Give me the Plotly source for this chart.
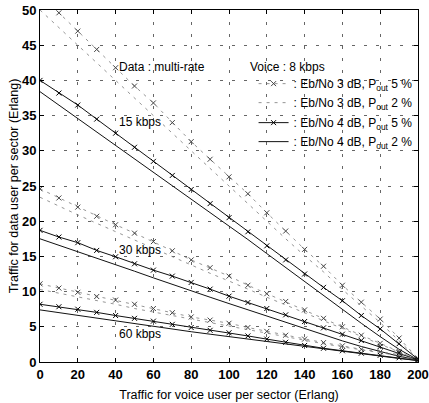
import plotly.graph_objects as go

x_voice = [0, 10, 20, 30, 40, 50, 60, 70, 80, 90, 100, 110, 120, 130, 140, 150, 160, 170, 180, 190, 200]

# 15 kbps
d15_3dB_5 = [52.2, 49.6, 47.0, 44.4, 41.8, 39.2, 36.8, 34.0, 31.3, 28.8, 26.3, 23.9, 21.2, 18.6, 16.0, 13.6, 10.9, 8.5, 6.1, 3.4, 0.5]
d15_3dB_2 = [50.0, 47.5, 45.0, 42.4, 39.9, 37.4, 34.9, 32.5, 30.0, 27.5, 25.0, 22.5, 20.0, 17.5, 15.1, 12.8, 10.3, 7.9, 5.6, 3.0, 0.4]
d15_4dB_5 = [40.0, 38.2, 36.5, 34.5, 32.5, 30.5, 28.5, 26.5, 24.5, 22.5, 20.5, 18.5, 16.5, 14.5, 12.5, 10.6, 8.7, 6.6, 4.7, 2.6, 0.4]
d15_4dB_2 = [38.4, 36.5, 34.6, 32.7, 30.8, 28.9, 27.0, 25.1, 23.2, 21.2, 19.3, 17.4, 15.4, 13.4, 11.4, 9.4, 7.5, 5.5, 3.6, 1.8, 0.3]

# 30 kbps
d30_3dB_5 = [24.6, 23.3, 22.0, 20.7, 19.5, 18.3, 17.1, 15.8, 14.5, 13.4, 12.2, 10.9, 9.7, 8.6, 7.4, 6.2, 5.0, 3.8, 2.65, 1.5, 0.3]
d30_3dB_2 = [23.4, 22.1, 20.9, 19.7, 18.5, 17.3, 16.1, 14.9, 13.7, 12.6, 11.5, 10.3, 9.2, 8.1, 7.0, 5.8, 4.7, 3.6, 2.5, 1.4, 0.3]
d30_4dB_5 = [18.7, 17.75, 16.95, 15.85, 14.95, 13.95, 13.05, 12.2, 11.3, 10.35, 9.35, 8.45, 7.6, 6.7, 5.75, 4.85, 3.95, 3.05, 2.2, 1.3, 0.3]
d30_4dB_2 = [17.5, 16.6, 15.7, 14.8, 13.85, 12.9, 11.95, 11.0, 10.1, 9.2, 8.3, 7.4, 6.5, 5.6, 4.7, 3.85, 3.0, 2.2, 1.45, 0.8, 0.3]

# 60 kbps
d60_3dB_5 = [11.1, 10.5, 9.9, 9.3, 8.8, 8.2, 7.6, 7.0, 6.4, 5.95, 5.5, 4.9, 4.35, 3.8, 3.25, 2.75, 2.3, 1.8, 1.45, 1.05, 0.3]
d60_3dB_2 = [10.3, 9.8, 9.2, 8.7, 8.2, 7.6, 7.1, 6.6, 6.0, 5.55, 5.1, 4.6, 4.1, 3.6, 3.1, 2.6, 2.15, 1.7, 1.3, 0.9, 0.3]
d60_4dB_5 = [8.2, 7.85, 7.5, 7.05, 6.6, 6.2, 5.8, 5.35, 4.9, 4.5, 4.15, 3.7, 3.25, 2.8, 2.35, 1.95, 1.6, 1.25, 0.95, 0.6, 0.2]
d60_4dB_2 = [7.4, 7.0, 6.6, 6.2, 5.85, 5.45, 5.1, 4.7, 4.3, 3.95, 3.6, 3.2, 2.85, 2.5, 2.15, 1.8, 1.45, 1.1, 0.8, 0.5, 0.2]

x_ticks = [0, 20, 40, 60, 80, 100, 120, 140, 160, 180, 200]
y_ticks = [0, 5, 10, 15, 20, 25, 30, 35, 40, 45, 50]

legend_names = [
    ": Eb/No 3 dB, P<sub>out</sub> 5 %",
    ": Eb/No 3 dB, P<sub>out</sub> 2 %",
    ": Eb/No 4 dB, P<sub>out</sub> 5 %",
    ": Eb/No 4 dB, P<sub>out</sub> 2 %",
]

FONT = "Liberation Sans, Arial, sans-serif"

fig = go.Figure()

groups = [
    (d15_3dB_5, d15_3dB_2, d15_4dB_5, d15_4dB_2),
    (d30_3dB_5, d30_3dB_2, d30_4dB_5, d30_4dB_2),
    (d60_3dB_5, d60_3dB_2, d60_4dB_5, d60_4dB_2),
]

styles = [
    dict(dash="3px,5px", color="#7a7a7a", width=0.8, marker=True, lg="a", mc="#444444"),
    dict(dash="3px,5px", color="#7a7a7a", width=0.8, marker=False, lg="a", mc="#444444"),
    dict(dash="solid", color="#111111", width=1.0, marker=True, lg="b", mc="black"),
    dict(dash="solid", color="#111111", width=1.0, marker=False, lg="b", mc="black"),
]

for gi, grp in enumerate(groups):
    for si, ys in enumerate(grp):
        st = styles[si]
        mode = "lines+markers" if st["marker"] else "lines"
        fig.add_trace(go.Scatter(
            x=x_voice, y=ys, mode=mode,
            name=legend_names[si],
            legendgroup=st["lg"],
            showlegend=(gi == 0),
            line=dict(color=st["color"], width=st["width"], dash=st["dash"]),
            marker=dict(symbol="x-thin", size=5, color=st["mc"],
                        line=dict(width=1, color=st["mc"])),
        ))

ann_font = dict(family=FONT, size=12, color="black")
fig.add_annotation(x=40.5, y=41.9, text="Data : multi-rate", showarrow=False,
                   xanchor="left", yanchor="middle", font=ann_font)
fig.add_annotation(x=110, y=41.9, text="Voice : 8 kbps", showarrow=False,
                   xanchor="left", yanchor="middle", font=ann_font)
fig.add_annotation(x=40.6, y=34.1, text="15 kbps", showarrow=False,
                   xanchor="left", yanchor="middle", font=ann_font)
fig.add_annotation(x=40.6, y=15.9, text="30 kbps", showarrow=False,
                   xanchor="left", yanchor="middle", font=ann_font)
fig.add_annotation(x=40.6, y=4.0, text="60 kbps", showarrow=False,
                   xanchor="left", yanchor="middle", font=ann_font)

axis_common = dict(
    showline=True, linecolor="black", linewidth=1, mirror="ticks",
    ticks="inside", ticklen=4, tickcolor="black",
    showgrid=True, gridcolor="#666666", gridwidth=1, griddash="3px,9px",
    zeroline=False, automargin=False, ticklabeloverflow="allow",
    tickfont=dict(family=FONT, size=13, color="black", weight="bold"),
)

fig.update_xaxes(range=[0, 200], tickvals=x_ticks, ticktext=[str(v) for v in x_ticks],
                 title=dict(text="Traffic for voice user per sector (Erlang)", standoff=9,
                            font=dict(family=FONT, size=12.5, color="black")),
                 **axis_common)
fig.update_yaxes(range=[0, 50], tickvals=y_ticks, ticktext=[str(v) for v in y_ticks],
                 title=dict(text="Traffic for data user per sector (Erlang)", standoff=0,
                            font=dict(family=FONT, size=12.5, color="black")),
                 **axis_common)

fig.update_layout(
    width=429, height=403,
    margin=dict(l=40, r=11, t=10, b=41, autoexpand=False),
    paper_bgcolor="white", plot_bgcolor="white",
    showlegend=True,
    legend=dict(
        x=0.565, y=0.832, xanchor="left", yanchor="top",
        bgcolor="rgba(0,0,0,0)", borderwidth=0,
        font=dict(family=FONT, size=12, color="black"),
        traceorder="grouped", tracegroupgap=1,
        itemwidth=30,
    ),
)

fig.write_html("out.html")
